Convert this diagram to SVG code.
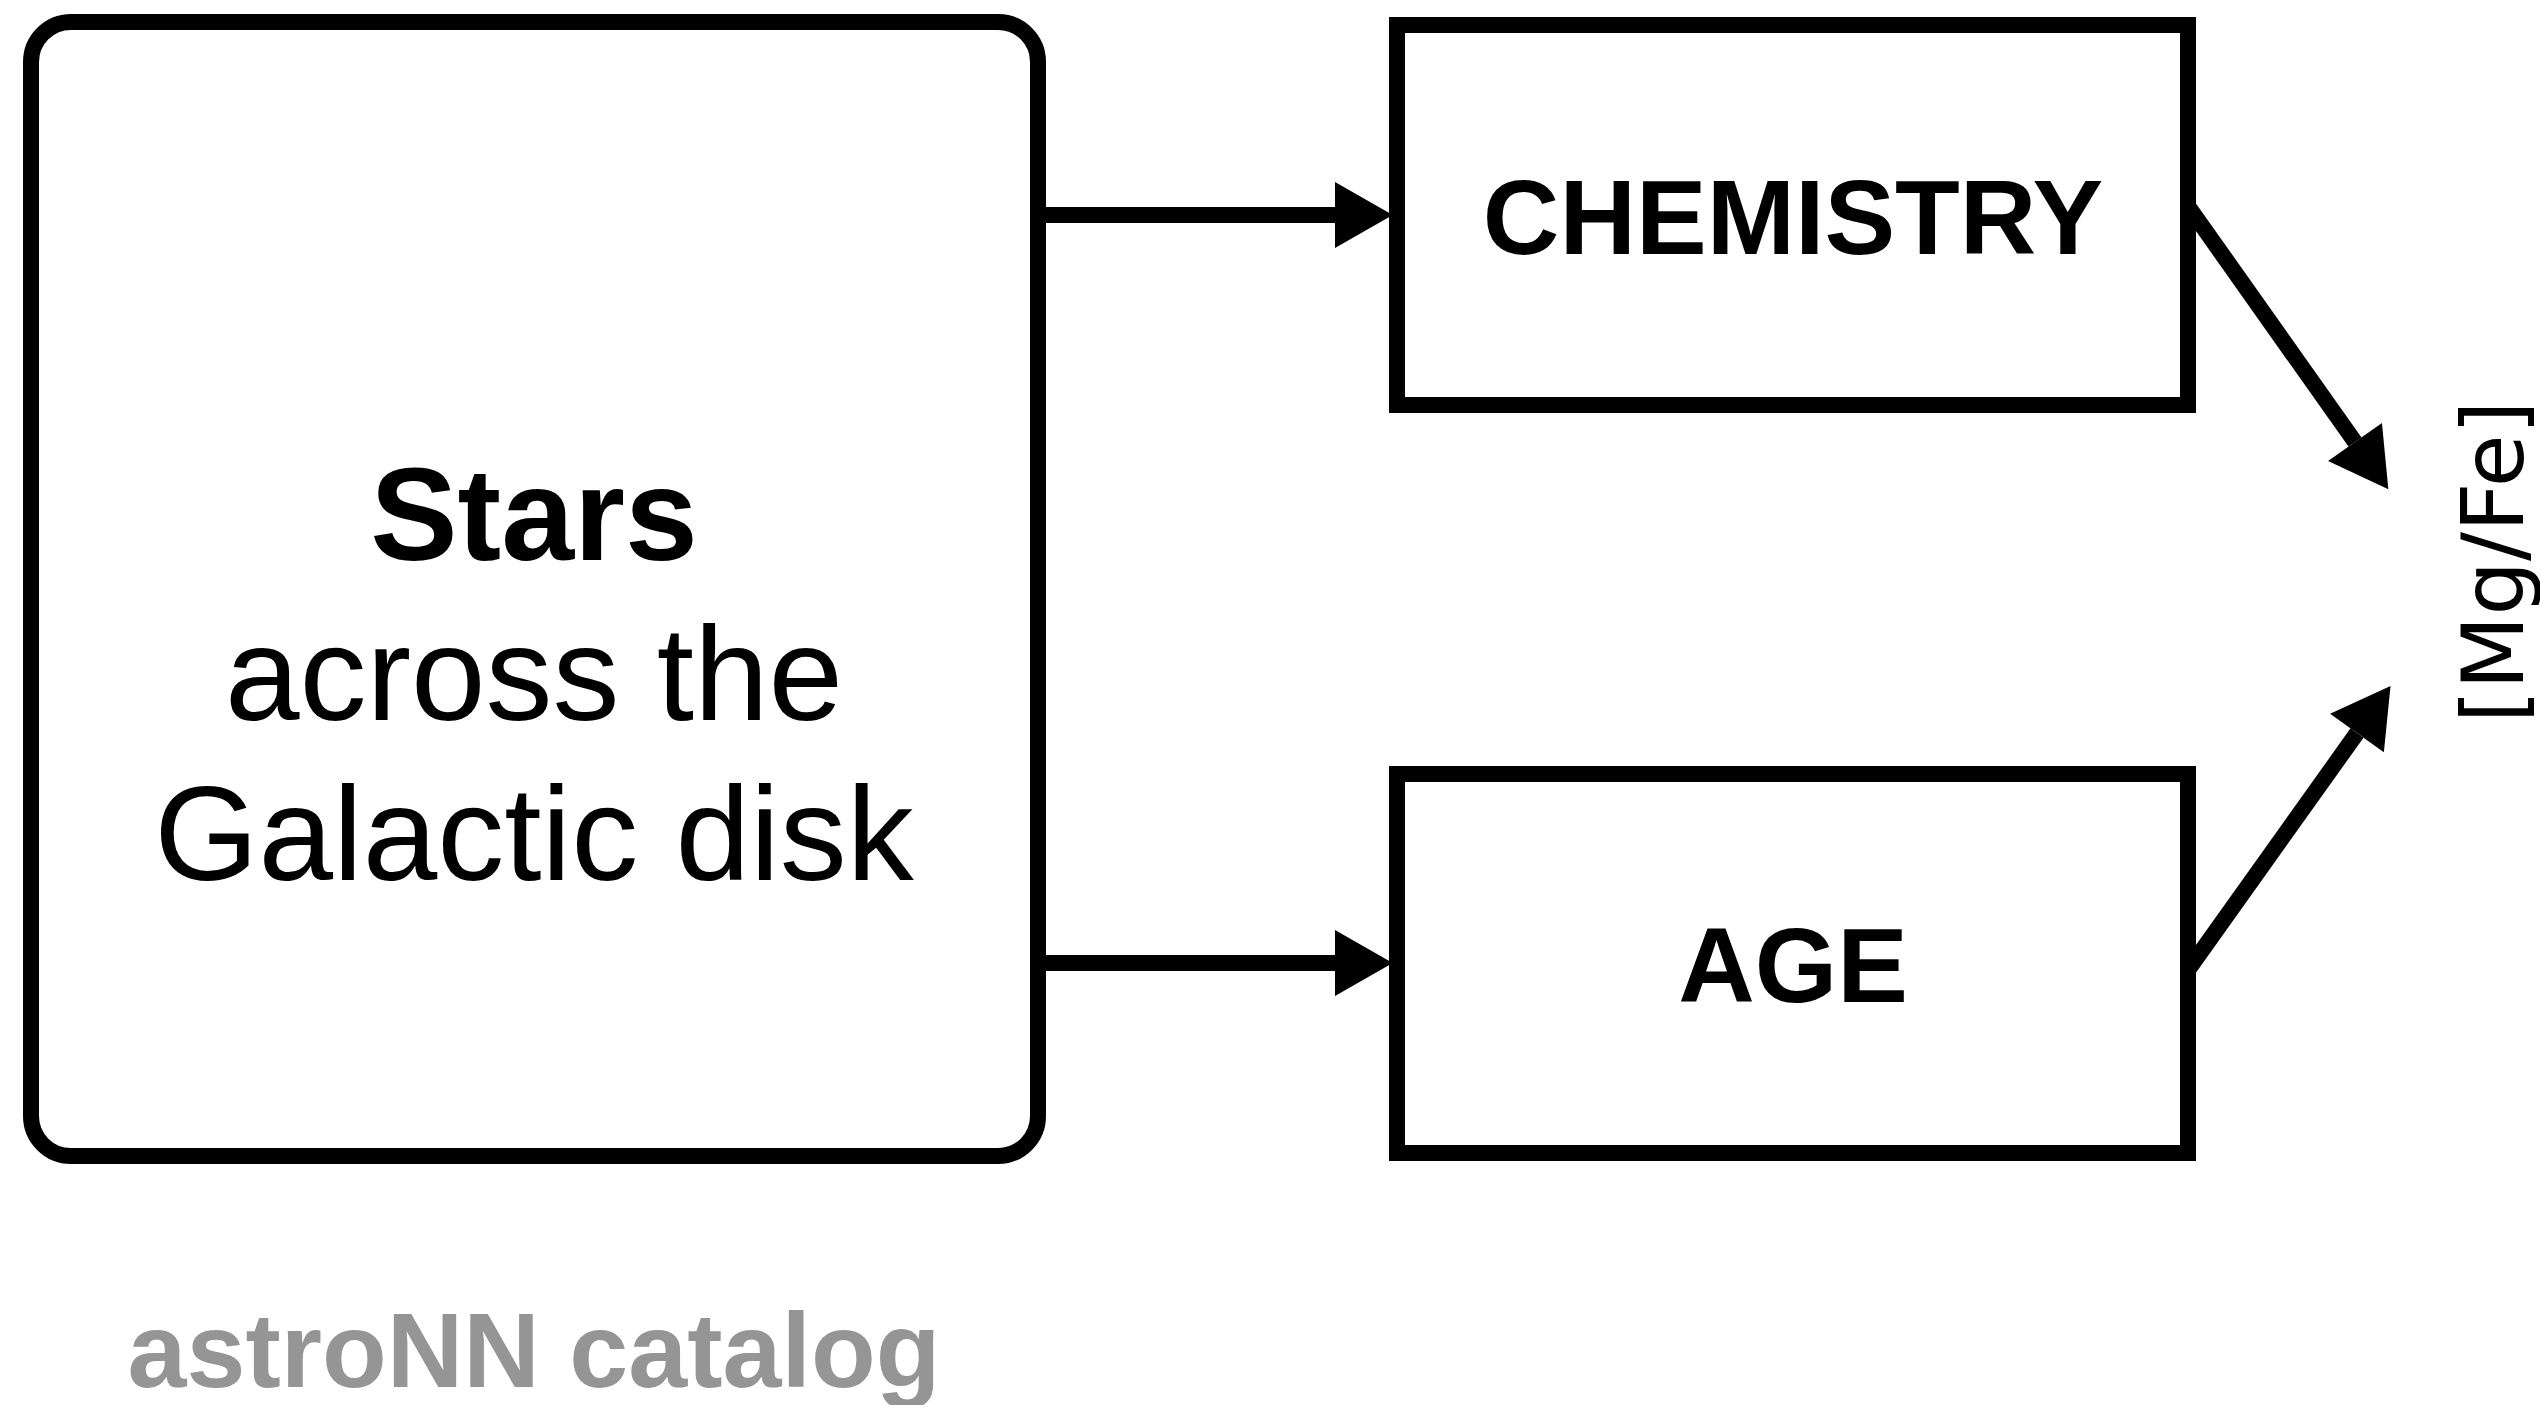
<svg xmlns="http://www.w3.org/2000/svg" width="2540" height="1405" viewBox="0 0 2540 1405">
  <style>
    .box { fill: #ffffff; stroke: #000000; stroke-width: 16; }
    .edge { fill: none; stroke: #000000; stroke-width: 16; stroke-linecap: butt; }
    .bold { font-family: "Liberation Sans", Arial, Helvetica, sans-serif; font-weight: bold; fill: #000000; text-anchor: middle; }
    .plain { font-family: "Liberation Sans", Arial, Helvetica, sans-serif; font-weight: normal; fill: #000000; text-anchor: middle; }
    .caption { font-family: "Liberation Sans", Arial, Helvetica, sans-serif; font-weight: bold; fill: #959595; text-anchor: middle; }
    .axis { font-family: "DejaVu Sans", "Liberation Sans", sans-serif; fill: #000000; text-anchor: middle; }
  </style>
  <defs>
    <!-- solid triangular head; starts at the end of the line and points forward -->
    <marker id="head" markerUnits="userSpaceOnUse" markerWidth="60" markerHeight="66" viewBox="0 0 56 64" refX="0" refY="32" orient="auto">
      <path d="M0,0 L56,32 L0,64 Z" fill="#000000"/>
    </marker>
    <filter id="soft" x="-10%" y="-10%" width="120%" height="120%">
      <feGaussianBlur stdDeviation="0.7"/>
    </filter>
  </defs>

  <rect width="2540" height="1405" fill="#ffffff"/>

  <!-- connectors -->
  <g id="connectors">
    <path class="edge" d="M1038,215 L1335,215" marker-end="url(#head)"/>
    <path class="edge" d="M1038,963 L1335,963" marker-end="url(#head)"/>
    <path class="edge" d="M2188,206 L2355,442" marker-end="url(#head)"/>
    <path class="edge" d="M2188,970 L2357,733" marker-end="url(#head)"/>
  </g>

  <!-- source: stars -->
  <g id="stars">
    <rect class="box" x="31" y="22" width="1007" height="1134" rx="40" ry="40"/>
    <text class="bold" x="534" y="560" font-size="131">Stars</text>
    <text class="plain" x="534" y="720" font-size="134">across the</text>
    <text class="plain" x="534" y="880" font-size="134">Galactic disk</text>
  </g>

  <!-- chemistry -->
  <g id="chemistry">
    <rect class="box" x="1397" y="25" width="791" height="380"/>
    <text class="bold" x="1793" y="254" font-size="106">CHEMISTRY</text>
  </g>

  <!-- age -->
  <g id="age">
    <rect class="box" x="1397" y="774" width="791" height="379"/>
    <text class="bold" x="1793" y="1002" font-size="106">AGE</text>
  </g>

  <!-- target quantity -->
  <g id="mgfe" filter="url(#soft)">
    <text class="axis" transform="translate(2523,562) rotate(-90)" x="0" y="0" font-size="86">[Mg/Fe]</text>
  </g>

  <!-- catalogue label -->
  <g id="catalog">
    <text class="caption" x="534" y="1387" font-size="106">astroNN catalog</text>
  </g>
</svg>
